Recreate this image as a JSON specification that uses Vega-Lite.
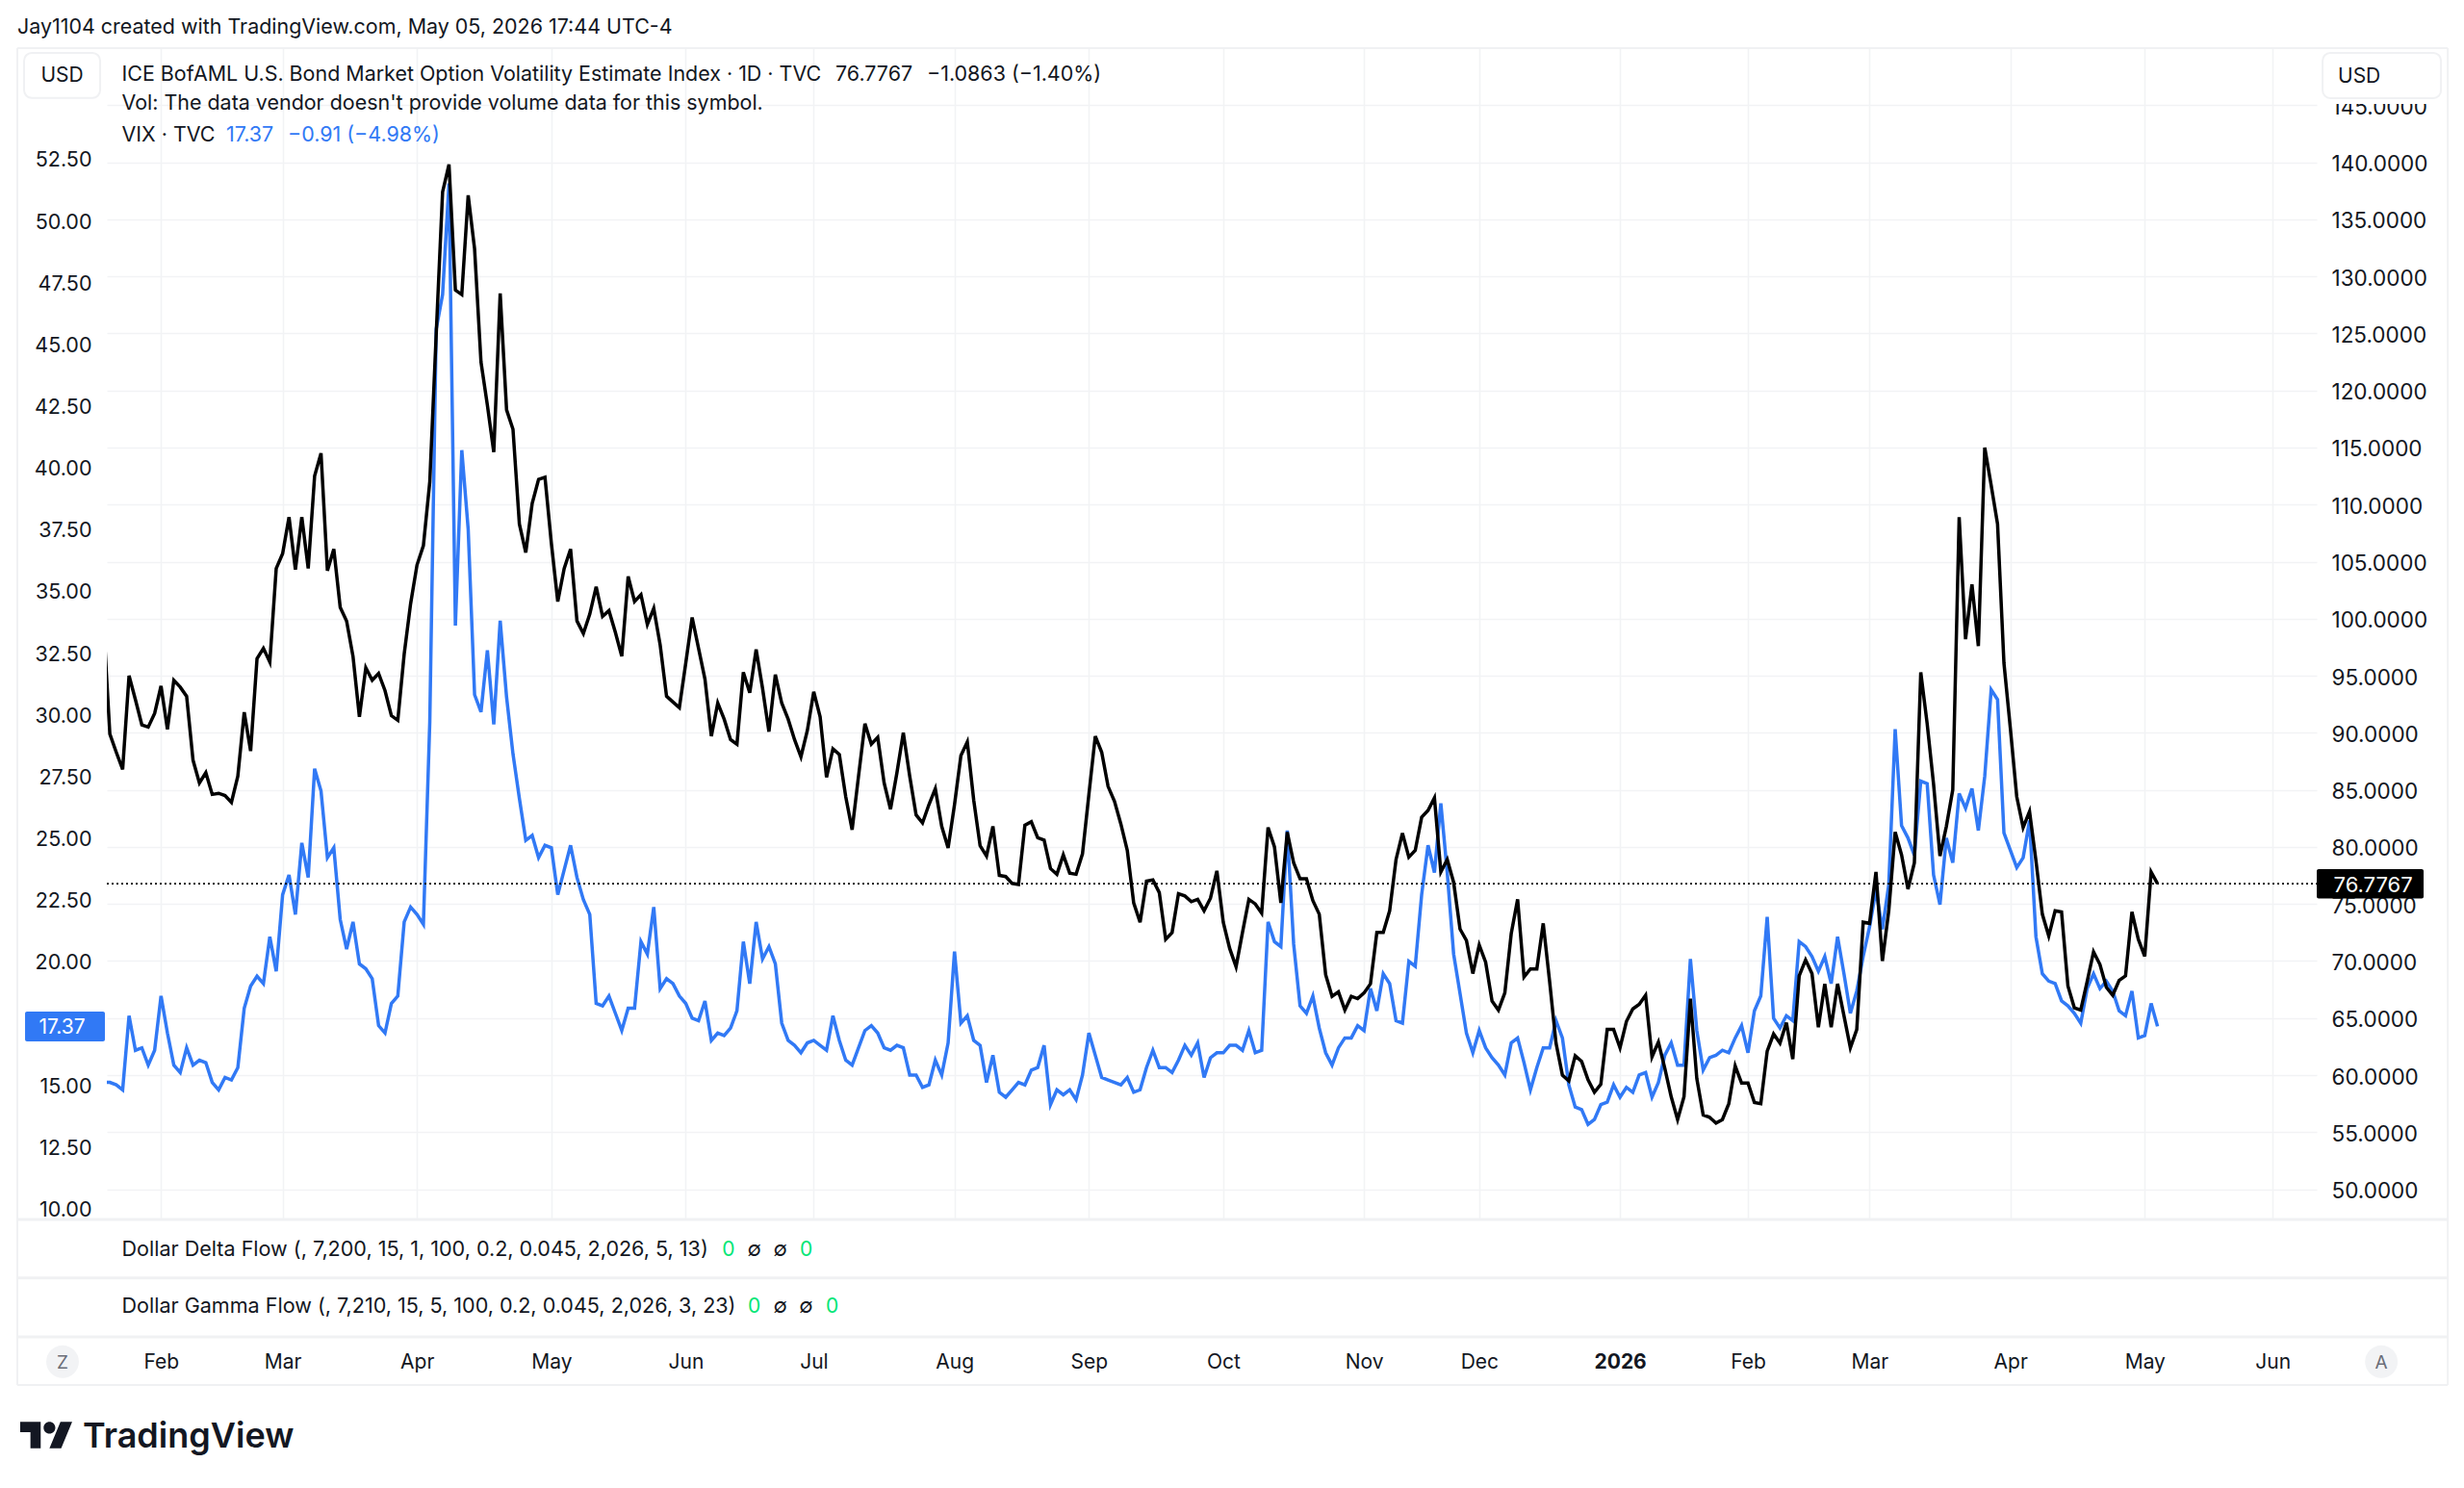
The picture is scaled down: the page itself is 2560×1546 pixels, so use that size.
{"$schema":"https://vega.github.io/schema/vega-lite/v6.json","width":2296,"height":1217,"autosize":"none","padding":{"left":111,"top":50,"right":153,"bottom":279},"background":"white","config":{"view":{"stroke":null},"font":"Inter","text":{"font":"Inter","dy":1.5}},
"data":{"values":[
{"bar":0,"move":99.8,"vix":15.1},{"bar":1,"move":89.9,"vix":15.1},{"bar":2,"move":88.3,"vix":15.0},{"bar":3,"move":86.8,"vix":14.8},{"bar":4,"move":95.0,"vix":17.8},{"bar":5,"move":92.9,"vix":16.4},{"bar":6,"move":90.7,"vix":16.5},{"bar":7,"move":90.5,"vix":15.8},{"bar":8,"move":91.7,"vix":16.4},{"bar":9,"move":94.1,"vix":18.6},
{"bar":10,"move":90.3,"vix":17.1},{"bar":11,"move":94.6,"vix":15.8},{"bar":12,"move":94.0,"vix":15.5},{"bar":13,"move":93.2,"vix":16.5},{"bar":14,"move":87.6,"vix":15.8},{"bar":15,"move":85.6,"vix":16.0},{"bar":16,"move":86.5,"vix":15.9},{"bar":17,"move":84.6,"vix":15.1},{"bar":18,"move":84.7,"vix":14.8},{"bar":19,"move":84.5,"vix":15.3},
{"bar":20,"move":83.9,"vix":15.2},{"bar":21,"move":86.2,"vix":15.7},{"bar":22,"move":91.8,"vix":18.1},{"bar":23,"move":88.4,"vix":19.0},{"bar":24,"move":96.5,"vix":19.4},{"bar":25,"move":97.4,"vix":19.1},{"bar":26,"move":96.2,"vix":21.0},{"bar":27,"move":104.4,"vix":19.6},{"bar":28,"move":105.7,"vix":22.7},{"bar":29,"move":108.9,"vix":23.5},
{"bar":30,"move":104.3,"vix":21.9},{"bar":31,"move":108.9,"vix":24.8},{"bar":32,"move":104.4,"vix":23.4},{"bar":33,"move":112.5,"vix":27.8},{"bar":34,"move":114.5,"vix":26.9},{"bar":35,"move":104.2,"vix":24.2},{"bar":36,"move":106.1,"vix":24.6},{"bar":37,"move":101.0,"vix":21.7},{"bar":38,"move":99.8,"vix":20.5},{"bar":39,"move":96.7,"vix":21.6},
{"bar":40,"move":91.4,"vix":19.9},{"bar":41,"move":95.7,"vix":19.7},{"bar":42,"move":94.6,"vix":19.3},{"bar":43,"move":95.2,"vix":17.4},{"bar":44,"move":93.7,"vix":17.1},{"bar":45,"move":91.5,"vix":18.3},{"bar":46,"move":91.1,"vix":18.6},{"bar":47,"move":96.9,"vix":21.6},{"bar":48,"move":101.3,"vix":22.2},{"bar":49,"move":104.7,"vix":21.9},
{"bar":50,"move":106.4,"vix":21.5},{"bar":51,"move":112.0,"vix":29.7},{"bar":52,"move":124.9,"vix":45.6},{"bar":53,"move":137.4,"vix":47.0},{"bar":54,"move":139.8,"vix":51.5},{"bar":55,"move":128.8,"vix":33.6},{"bar":56,"move":128.4,"vix":40.7},{"bar":57,"move":137.1,"vix":37.5},{"bar":58,"move":132.4,"vix":30.8},{"bar":59,"move":122.5,"vix":30.1},
{"bar":60,"move":118.7,"vix":32.6},{"bar":61,"move":114.6,"vix":29.6},{"bar":62,"move":128.5,"vix":33.8},{"bar":63,"move":118.3,"vix":30.7},{"bar":64,"move":116.6,"vix":28.4},{"bar":65,"move":108.3,"vix":26.6},{"bar":66,"move":105.8,"vix":24.9},{"bar":67,"move":110.1,"vix":25.1},{"bar":68,"move":112.2,"vix":24.2},{"bar":69,"move":112.4,"vix":24.7},
{"bar":70,"move":106.6,"vix":24.6},{"bar":71,"move":101.5,"vix":22.7},{"bar":72,"move":104.4,"vix":23.7},{"bar":73,"move":106.1,"vix":24.7},{"bar":74,"move":99.8,"vix":23.4},{"bar":75,"move":98.7,"vix":22.5},{"bar":76,"move":100.4,"vix":21.9},{"bar":77,"move":102.8,"vix":18.3},{"bar":78,"move":100.2,"vix":18.2},{"bar":79,"move":100.7,"vix":18.6},
{"bar":80,"move":98.8,"vix":17.9},{"bar":81,"move":96.7,"vix":17.2},{"bar":82,"move":103.7,"vix":18.1},{"bar":83,"move":101.5,"vix":18.1},{"bar":84,"move":102.1,"vix":20.8},{"bar":85,"move":99.5,"vix":20.3},{"bar":86,"move":100.9,"vix":22.2},{"bar":87,"move":97.7,"vix":18.9},{"bar":88,"move":93.2,"vix":19.3},{"bar":89,"move":92.7,"vix":19.1},
{"bar":90,"move":92.2,"vix":18.6},{"bar":91,"move":96.1,"vix":18.3},{"bar":92,"move":100.1,"vix":17.7},{"bar":93,"move":97.4,"vix":17.6},{"bar":94,"move":94.7,"vix":18.4},{"bar":95,"move":89.7,"vix":16.8},{"bar":96,"move":92.6,"vix":17.1},{"bar":97,"move":91.2,"vix":17.0},{"bar":98,"move":89.4,"vix":17.3},{"bar":99,"move":89.0,"vix":18.0},
{"bar":100,"move":95.3,"vix":20.8},{"bar":101,"move":93.5,"vix":19.1},{"bar":102,"move":97.3,"vix":21.6},{"bar":103,"move":93.9,"vix":20.1},{"bar":104,"move":90.1,"vix":20.6},{"bar":105,"move":95.1,"vix":19.9},{"bar":106,"move":92.6,"vix":17.5},{"bar":107,"move":91.2,"vix":16.8},{"bar":108,"move":89.4,"vix":16.6},{"bar":109,"move":87.9,"vix":16.3},
{"bar":110,"move":90.2,"vix":16.7},{"bar":111,"move":93.6,"vix":16.8},{"bar":112,"move":91.4,"vix":16.6},{"bar":113,"move":86.1,"vix":16.4},{"bar":114,"move":88.6,"vix":17.8},{"bar":115,"move":88.1,"vix":16.8},{"bar":116,"move":84.4,"vix":16.0},{"bar":117,"move":81.5,"vix":15.8},{"bar":118,"move":86.2,"vix":16.5},{"bar":119,"move":90.8,"vix":17.2},
{"bar":120,"move":89.0,"vix":17.4},{"bar":121,"move":89.6,"vix":17.1},{"bar":122,"move":85.6,"vix":16.5},{"bar":123,"move":83.3,"vix":16.4},{"bar":124,"move":86.5,"vix":16.6},{"bar":125,"move":90.0,"vix":16.5},{"bar":126,"move":86.2,"vix":15.4},{"bar":127,"move":82.8,"vix":15.4},{"bar":128,"move":82.1,"vix":14.9},{"bar":129,"move":83.7,"vix":15.0},
{"bar":130,"move":85.1,"vix":16.0},{"bar":131,"move":81.8,"vix":15.4},{"bar":132,"move":79.9,"vix":16.7},{"bar":133,"move":83.7,"vix":20.4},{"bar":134,"move":88.0,"vix":17.5},{"bar":135,"move":89.2,"vix":17.8},{"bar":136,"move":84.1,"vix":16.8},{"bar":137,"move":80.1,"vix":16.6},{"bar":138,"move":79.2,"vix":15.1},{"bar":139,"move":81.8,"vix":16.2},
{"bar":140,"move":77.5,"vix":14.7},{"bar":141,"move":77.4,"vix":14.5},{"bar":142,"move":76.8,"vix":14.8},{"bar":143,"move":76.7,"vix":15.1},{"bar":144,"move":81.9,"vix":15.0},{"bar":145,"move":82.2,"vix":15.6},{"bar":146,"move":80.8,"vix":15.7},{"bar":147,"move":80.6,"vix":16.6},{"bar":148,"move":78.1,"vix":14.2},{"bar":149,"move":77.6,"vix":14.8},
{"bar":150,"move":79.3,"vix":14.6},{"bar":151,"move":77.7,"vix":14.8},{"bar":152,"move":77.6,"vix":14.4},{"bar":153,"move":79.4,"vix":15.4},{"bar":154,"move":84.6,"vix":17.1},{"bar":155,"move":89.7,"vix":16.2},{"bar":156,"move":88.3,"vix":15.3},{"bar":157,"move":85.3,"vix":15.2},{"bar":158,"move":84.0,"vix":15.1},{"bar":159,"move":82.0,"vix":15.0},
{"bar":160,"move":79.7,"vix":15.3},{"bar":161,"move":75.1,"vix":14.7},{"bar":162,"move":73.4,"vix":14.8},{"bar":163,"move":77.0,"vix":15.7},{"bar":164,"move":77.1,"vix":16.4},{"bar":165,"move":76.0,"vix":15.7},{"bar":166,"move":71.9,"vix":15.7},{"bar":167,"move":72.5,"vix":15.5},{"bar":168,"move":75.9,"vix":16.0},{"bar":169,"move":75.7,"vix":16.6},
{"bar":170,"move":75.2,"vix":16.2},{"bar":171,"move":75.4,"vix":16.7},{"bar":172,"move":74.4,"vix":15.3},{"bar":173,"move":75.5,"vix":16.1},{"bar":174,"move":77.9,"vix":16.3},{"bar":175,"move":73.4,"vix":16.3},{"bar":176,"move":71.1,"vix":16.6},{"bar":177,"move":69.5,"vix":16.6},{"bar":178,"move":72.5,"vix":16.4},{"bar":179,"move":75.4,"vix":17.2},
{"bar":180,"move":75.0,"vix":16.3},{"bar":181,"move":74.2,"vix":16.4},{"bar":182,"move":81.7,"vix":21.6},{"bar":183,"move":80.0,"vix":20.8},{"bar":184,"move":75.1,"vix":20.6},{"bar":185,"move":81.3,"vix":25.3},{"bar":186,"move":78.6,"vix":20.7},{"bar":187,"move":77.2,"vix":18.2},{"bar":188,"move":77.2,"vix":17.9},{"bar":189,"move":75.3,"vix":18.6},
{"bar":190,"move":74.1,"vix":17.3},{"bar":191,"move":68.8,"vix":16.3},{"bar":192,"move":66.9,"vix":15.8},{"bar":193,"move":67.3,"vix":16.5},{"bar":194,"move":65.7,"vix":16.9},{"bar":195,"move":66.9,"vix":16.9},{"bar":196,"move":66.7,"vix":17.4},{"bar":197,"move":67.2,"vix":17.2},{"bar":198,"move":68.0,"vix":18.9},{"bar":199,"move":72.5,"vix":18.0},
{"bar":200,"move":72.5,"vix":19.5},{"bar":201,"move":74.4,"vix":19.1},{"bar":202,"move":78.9,"vix":17.6},{"bar":203,"move":81.2,"vix":17.5},{"bar":204,"move":79.1,"vix":20.0},{"bar":205,"move":79.7,"vix":19.8},{"bar":206,"move":82.6,"vix":22.7},{"bar":207,"move":83.2,"vix":24.7},{"bar":208,"move":84.3,"vix":23.6},{"bar":209,"move":77.8,"vix":26.4},
{"bar":210,"move":78.9,"vix":23.6},{"bar":211,"move":76.9,"vix":20.3},{"bar":212,"move":72.8,"vix":18.7},{"bar":213,"move":71.8,"vix":17.1},{"bar":214,"move":68.9,"vix":16.3},{"bar":215,"move":71.4,"vix":17.2},{"bar":216,"move":69.9,"vix":16.5},{"bar":217,"move":66.5,"vix":16.1},{"bar":218,"move":65.7,"vix":15.8},{"bar":219,"move":67.2,"vix":15.4},
{"bar":220,"move":72.4,"vix":16.7},{"bar":221,"move":75.4,"vix":16.9},{"bar":222,"move":68.6,"vix":15.9},{"bar":223,"move":69.3,"vix":14.8},{"bar":224,"move":69.3,"vix":15.7},{"bar":225,"move":73.3,"vix":16.5},{"bar":226,"move":68.2,"vix":16.5},{"bar":227,"move":62.8,"vix":17.6},{"bar":228,"move":60.0,"vix":16.9},{"bar":229,"move":59.5,"vix":15.0},
{"bar":230,"move":61.7,"vix":14.1},{"bar":231,"move":61.2,"vix":14.0},{"bar":232,"move":59.6,"vix":13.4},{"bar":233,"move":58.5,"vix":13.6},{"bar":234,"move":59.2,"vix":14.2},{"bar":235,"move":64.0,"vix":14.3},{"bar":236,"move":64.0,"vix":15.0},{"bar":237,"move":62.4,"vix":14.5},{"bar":238,"move":64.7,"vix":14.9},{"bar":239,"move":65.8,"vix":14.7},
{"bar":240,"move":66.2,"vix":15.4},{"bar":241,"move":67.0,"vix":15.5},{"bar":242,"move":61.6,"vix":14.5},{"bar":243,"move":62.9,"vix":15.1},{"bar":244,"move":60.6,"vix":16.2},{"bar":245,"move":58.1,"vix":16.7},{"bar":246,"move":56.1,"vix":15.8},{"bar":247,"move":58.1,"vix":15.8},{"bar":248,"move":66.7,"vix":20.1},{"bar":249,"move":59.7,"vix":17.2},
{"bar":250,"move":56.5,"vix":15.6},{"bar":251,"move":56.3,"vix":16.1},{"bar":252,"move":55.8,"vix":16.2},{"bar":253,"move":56.1,"vix":16.4},{"bar":254,"move":57.5,"vix":16.3},{"bar":255,"move":60.8,"vix":16.9},{"bar":256,"move":59.3,"vix":17.4},{"bar":257,"move":59.3,"vix":16.3},{"bar":258,"move":57.6,"vix":18.0},{"bar":259,"move":57.5,"vix":18.6},
{"bar":260,"move":62.1,"vix":21.8},{"bar":261,"move":63.6,"vix":17.7},{"bar":262,"move":62.8,"vix":17.3},{"bar":263,"move":64.6,"vix":17.8},{"bar":264,"move":61.4,"vix":17.6},{"bar":265,"move":68.7,"vix":20.8},{"bar":266,"move":70.1,"vix":20.6},{"bar":267,"move":68.9,"vix":20.2},{"bar":268,"move":64.2,"vix":19.6},{"bar":269,"move":68.0,"vix":20.2},
{"bar":270,"move":64.2,"vix":19.1},{"bar":271,"move":68.0,"vix":21.0},{"bar":272,"move":65.2,"vix":19.5},{"bar":273,"move":62.4,"vix":17.9},{"bar":274,"move":64.0,"vix":18.8},{"bar":275,"move":73.4,"vix":20.2},{"bar":276,"move":73.3,"vix":21.4},{"bar":277,"move":77.8,"vix":22.9},{"bar":278,"move":70.0,"vix":21.3},{"bar":279,"move":74.4,"vix":23.1},
{"bar":280,"move":81.3,"vix":29.4},{"bar":281,"move":79.3,"vix":25.5},{"bar":282,"move":76.3,"vix":25.0},{"bar":283,"move":78.6,"vix":24.3},{"bar":284,"move":95.3,"vix":27.3},{"bar":285,"move":90.8,"vix":27.2},{"bar":286,"move":85.5,"vix":23.5},{"bar":287,"move":79.2,"vix":22.3},{"bar":288,"move":81.8,"vix":25.0},{"bar":289,"move":85.0,"vix":24.0},
{"bar":290,"move":108.9,"vix":26.8},{"bar":291,"move":98.2,"vix":26.2},{"bar":292,"move":103.0,"vix":27.0},{"bar":293,"move":97.6,"vix":25.3},{"bar":294,"move":115.0,"vix":27.5},{"bar":295,"move":111.7,"vix":31.0},{"bar":296,"move":108.3,"vix":30.6},{"bar":297,"move":96.1,"vix":25.2},{"bar":298,"move":90.4,"vix":24.5},{"bar":299,"move":84.4,"vix":23.8},
{"bar":300,"move":81.7,"vix":24.2},{"bar":301,"move":83.1,"vix":25.7},{"bar":302,"move":78.8,"vix":21.0},{"bar":303,"move":74.1,"vix":19.5},{"bar":304,"move":72.2,"vix":19.2},{"bar":305,"move":74.4,"vix":19.1},{"bar":306,"move":74.3,"vix":18.4},{"bar":307,"move":67.8,"vix":18.2},{"bar":308,"move":65.9,"vix":17.9},{"bar":309,"move":65.7,"vix":17.5},
{"bar":310,"move":68.2,"vix":18.9},{"bar":311,"move":70.8,"vix":19.5},{"bar":312,"move":69.7,"vix":18.9},{"bar":313,"move":67.7,"vix":19.2},{"bar":314,"move":67.0,"vix":18.8},{"bar":315,"move":68.3,"vix":18.0},{"bar":316,"move":68.7,"vix":17.8},{"bar":317,"move":74.3,"vix":18.8},{"bar":318,"move":71.9,"vix":16.9},{"bar":319,"move":70.4,"vix":17.0},
{"bar":320,"move":77.8,"vix":18.3},{"bar":321,"move":76.78,"vix":17.37}
]},
"resolve":{"scale":{"y":"independent"},"axis":{"x":"independent","y":"independent"}},
"layer":[
{"mark":{"type":"line","clip":true,"color":"#3179F5","strokeWidth":3.5},"encoding":{"x":{"field":"bar","type":"quantitative","scale":{"domain":[0.53,345.88],"nice":false,"zero":false},"axis":{"values":[9,28,49,70,91,111,133,154,175,197,215,237,257,276,298,319,339],"labelExpr":"['Feb','Mar','Apr','May','Jun','Jul','Aug','Sep','Oct','Nov','Dec','2026','Feb','Mar','Apr','May','Jun'][indexof([9,28,49,70,91,111,133,154,175,197,215,237,257,276,298,319,339],datum.value)]","title":null,"grid":true,"gridColor":"#f2f3f5","gridWidth":1.6,"domain":false,"ticks":false,"labelPadding":137,"labelFont":"Inter","labelFontSize":21,"labelColor":"#131722","labelFontWeight":{"condition":{"test":"datum.value==237","value":700},"value":400},"labelOverlap":false,"labelFlush":false,"zindex":0}},"y":{"field":"vix","type":"quantitative","scale":{"domain":[9.55,56.98],"nice":false,"zero":false},"axis":{"orient":"left","values":[10,12.5,15,20,22.5,25,27.5,30,32.5,35,37.5,40,42.5,45,47.5,50,52.5],"format":".2f","title":null,"grid":false,"domain":false,"ticks":false,"labelPadding":16,"labelOffset":2,"labelFont":"Inter","labelFontSize":21.5,"labelColor":"#131722","labelOverlap":false,"zindex":0}}}},
{"mark":{"type":"line","clip":true,"color":"#000000","strokeWidth":3.5},"encoding":{"x":{"field":"bar","type":"quantitative","axis":null},"y":{"field":"move","type":"quantitative","scale":{"domain":[47.35,150],"nice":false,"zero":false},"axis":{"orient":"right","values":[50,55,60,65,70,75,80,85,90,95,100,105,110,115,120,125,130,135,140,145],"format":".4f","title":null,"grid":true,"gridColor":"#f2f3f5","gridWidth":1.6,"domain":false,"ticks":false,"labelPadding":15,"labelOffset":2,"labelFont":"Inter","labelFontSize":22.5,"labelColor":"#131722","labelOverlap":false,"zindex":0}}}},
{"layer":[
{"data":{"values":[{"label":"Jay1104 created with TradingView.com, May 05, 2026 17:44 UTC-4"}]},"mark":{"type":"text","align":"left","baseline":"middle","fontSize":21.45,"color":"#131722"},"encoding":{"x":{"datum":-13.46,"type":"quantitative","axis":null},"y":{"datum":57.84,"type":"quantitative","axis":null,"scale":{"domain":[9.55,56.98],"nice":false,"zero":false}},"text":{"field":"label"}}},
{"data":{"values":[{"label":"ICE BofAML U.S. Bond Market Option Volatility Estimate Index · 1D · TVC"}]},"mark":{"type":"text","align":"left","baseline":"middle","fontSize":21.45,"color":"#131722"},"encoding":{"x":{"datum":2.86,"type":"quantitative","axis":null},"y":{"datum":55.93,"type":"quantitative","axis":null},"text":{"field":"label"}}},
{"data":{"values":[{"label":"76.7767"}]},"mark":{"type":"text","align":"left","baseline":"middle","fontSize":21.45,"color":"#131722"},"encoding":{"x":{"datum":114.4,"type":"quantitative","axis":null},"y":{"datum":55.93,"type":"quantitative","axis":null},"text":{"field":"label"}}},
{"data":{"values":[{"label":"−1.0863 (−1.40%)"}]},"mark":{"type":"text","align":"left","baseline":"middle","fontSize":21.45,"color":"#131722"},"encoding":{"x":{"datum":128.69,"type":"quantitative","axis":null},"y":{"datum":55.93,"type":"quantitative","axis":null},"text":{"field":"label"}}},
{"data":{"values":[{"label":"Vol: The data vendor doesn't provide volume data for this symbol."}]},"mark":{"type":"text","align":"left","baseline":"middle","fontSize":21.45,"color":"#131722"},"encoding":{"x":{"datum":2.86,"type":"quantitative","axis":null},"y":{"datum":54.76,"type":"quantitative","axis":null},"text":{"field":"label"}}},
{"data":{"values":[{"label":"VIX · TVC"}]},"mark":{"type":"text","align":"left","baseline":"middle","fontSize":21.45,"color":"#131722"},"encoding":{"x":{"datum":2.86,"type":"quantitative","axis":null},"y":{"datum":53.51,"type":"quantitative","axis":null},"text":{"field":"label"}}},
{"data":{"values":[{"label":"17.37"}]},"mark":{"type":"text","align":"left","baseline":"middle","fontSize":21.45,"color":"#3179F5"},"encoding":{"x":{"datum":19.18,"type":"quantitative","axis":null},"y":{"datum":53.51,"type":"quantitative","axis":null},"text":{"field":"label"}}},
{"data":{"values":[{"label":"−0.91 (−4.98%)"}]},"mark":{"type":"text","align":"left","baseline":"middle","fontSize":21.45,"color":"#3179F5"},"encoding":{"x":{"datum":28.81,"type":"quantitative","axis":null},"y":{"datum":53.51,"type":"quantitative","axis":null},"text":{"field":"label"}}},
{"data":{"values":[{}]},"mark":{"type":"rule","color":"#f0f1f3","strokeWidth":2},"encoding":{"x":{"datum":-13.46,"type":"quantitative","axis":null},"x2":{"datum":366.36},"y":{"datum":56.98,"type":"quantitative","axis":null}}},
{"data":{"values":[{}]},"mark":{"type":"rule","color":"#f0f1f3","strokeWidth":3},"encoding":{"x":{"datum":-13.46,"type":"quantitative","axis":null},"x2":{"datum":366.36},"y":{"datum":9.55,"type":"quantitative","axis":null}}},
{"data":{"values":[{}]},"mark":{"type":"rule","color":"#f0f1f3","strokeWidth":3},"encoding":{"x":{"datum":-13.46,"type":"quantitative","axis":null},"x2":{"datum":366.36},"y":{"datum":7.18,"type":"quantitative","axis":null}}},
{"data":{"values":[{}]},"mark":{"type":"rule","color":"#f0f1f3","strokeWidth":3},"encoding":{"x":{"datum":-13.46,"type":"quantitative","axis":null},"x2":{"datum":366.36},"y":{"datum":4.8,"type":"quantitative","axis":null}}},
{"data":{"values":[{}]},"mark":{"type":"rule","color":"#f0f1f3","strokeWidth":2},"encoding":{"x":{"datum":-13.46,"type":"quantitative","axis":null},"x2":{"datum":366.36},"y":{"datum":2.85,"type":"quantitative","axis":null}}},
{"data":{"values":[{}]},"mark":{"type":"rule","color":"#f0f1f3","strokeWidth":2},"encoding":{"x":{"datum":-13.46,"type":"quantitative","axis":null},"y":{"datum":56.98,"type":"quantitative","axis":null},"y2":{"datum":2.85}}},
{"data":{"values":[{}]},"mark":{"type":"rule","color":"#f0f1f3","strokeWidth":2},"encoding":{"x":{"datum":366.36,"type":"quantitative","axis":null},"y":{"datum":56.98,"type":"quantitative","axis":null},"y2":{"datum":2.85}}},
{"data":{"values":[{}]},"mark":{"type":"rect","fill":"white","stroke":"#f0f1f3","strokeWidth":2,"cornerRadius":8},"encoding":{"x":{"datum":-12.4,"type":"quantitative","axis":null},"x2":{"datum":-0.52},"y":{"datum":56.79,"type":"quantitative","axis":null},"y2":{"datum":54.96}}},
{"data":{"values":[{"label":"USD"}]},"mark":{"type":"text","align":"center","baseline":"middle","fontSize":21,"color":"#131722"},"encoding":{"x":{"datum":-6.46,"type":"quantitative","axis":null},"y":{"datum":55.89,"type":"quantitative","axis":null},"text":{"field":"label"}}},
{"data":{"values":[{}]},"mark":{"type":"rect","fill":"#3179F5","cornerRadius":2},"encoding":{"x":{"datum":-12.25,"type":"quantitative","axis":null},"x2":{"datum":0.23},"y":{"datum":17.97,"type":"quantitative","axis":null},"y2":{"datum":16.76}}},
{"data":{"values":[{"label":"17.37"}]},"mark":{"type":"text","align":"center","baseline":"middle","fontSize":21,"color":"white"},"encoding":{"x":{"datum":-6.46,"type":"quantitative","axis":null},"y":{"datum":17.37,"type":"quantitative","axis":null},"text":{"field":"label"}}},
{"data":{"values":[{"label":"Dollar Delta Flow (, 7,200, 15, 1, 100, 0.2, 0.045, 2,026, 5, 13)"}]},"mark":{"type":"text","align":"left","baseline":"middle","fontSize":21.55,"color":"#131722"},"encoding":{"x":{"datum":2.86,"type":"quantitative","axis":null},"y":{"datum":8.38,"type":"quantitative","axis":null},"text":{"field":"label"}}},
{"data":{"values":[{"label":"0"}]},"mark":{"type":"text","align":"center","baseline":"middle","fontSize":21,"color":"#00E676"},"encoding":{"x":{"datum":97.66,"type":"quantitative","axis":null},"y":{"datum":8.38,"type":"quantitative","axis":null},"text":{"field":"label"}}},
{"data":{"values":[{"label":"∅"}]},"mark":{"type":"text","align":"center","baseline":"middle","fontSize":21,"color":"#131722"},"encoding":{"x":{"datum":101.72,"type":"quantitative","axis":null},"y":{"datum":8.38,"type":"quantitative","axis":null},"text":{"field":"label"}}},
{"data":{"values":[{"label":"∅"}]},"mark":{"type":"text","align":"center","baseline":"middle","fontSize":21,"color":"#131722"},"encoding":{"x":{"datum":105.77,"type":"quantitative","axis":null},"y":{"datum":8.38,"type":"quantitative","axis":null},"text":{"field":"label"}}},
{"data":{"values":[{"label":"0"}]},"mark":{"type":"text","align":"center","baseline":"middle","fontSize":21,"color":"#00E676"},"encoding":{"x":{"datum":109.81,"type":"quantitative","axis":null},"y":{"datum":8.38,"type":"quantitative","axis":null},"text":{"field":"label"}}},
{"data":{"values":[{"label":"Dollar Gamma Flow (, 7,210, 15, 5, 100, 0.2, 0.045, 2,026, 3, 23)"}]},"mark":{"type":"text","align":"left","baseline":"middle","fontSize":21.55,"color":"#131722"},"encoding":{"x":{"datum":2.86,"type":"quantitative","axis":null},"y":{"datum":6.05,"type":"quantitative","axis":null},"text":{"field":"label"}}},
{"data":{"values":[{"label":"0"}]},"mark":{"type":"text","align":"center","baseline":"middle","fontSize":21,"color":"#00E676"},"encoding":{"x":{"datum":101.72,"type":"quantitative","axis":null},"y":{"datum":6.05,"type":"quantitative","axis":null},"text":{"field":"label"}}},
{"data":{"values":[{"label":"∅"}]},"mark":{"type":"text","align":"center","baseline":"middle","fontSize":21,"color":"#131722"},"encoding":{"x":{"datum":105.77,"type":"quantitative","axis":null},"y":{"datum":6.05,"type":"quantitative","axis":null},"text":{"field":"label"}}},
{"data":{"values":[{"label":"∅"}]},"mark":{"type":"text","align":"center","baseline":"middle","fontSize":21,"color":"#131722"},"encoding":{"x":{"datum":109.81,"type":"quantitative","axis":null},"y":{"datum":6.05,"type":"quantitative","axis":null},"text":{"field":"label"}}},
{"data":{"values":[{"label":"0"}]},"mark":{"type":"text","align":"center","baseline":"middle","fontSize":21,"color":"#00E676"},"encoding":{"x":{"datum":113.87,"type":"quantitative","axis":null},"y":{"datum":6.05,"type":"quantitative","axis":null},"text":{"field":"label"}}},
{"data":{"values":[{}]},"mark":{"type":"point","shape":"circle","filled":true,"opacity":1,"size":1150,"color":"#f2f3f5"},"encoding":{"x":{"datum":-6.39,"type":"quantitative","axis":null},"y":{"datum":3.79,"type":"quantitative","axis":null}}},
{"data":{"values":[{"label":"Z"}]},"mark":{"type":"text","align":"center","baseline":"middle","fontSize":19,"color":"#6a6d78"},"encoding":{"x":{"datum":-6.39,"type":"quantitative","axis":null},"y":{"datum":3.79,"type":"quantitative","axis":null},"text":{"field":"label"}}},
{"data":{"values":[{}]},"mark":{"type":"point","shape":"circle","filled":true,"opacity":1,"size":1150,"color":"#f2f3f5"},"encoding":{"x":{"datum":355.98,"type":"quantitative","axis":null},"y":{"datum":3.79,"type":"quantitative","axis":null}}},
{"data":{"values":[{"label":"A"}]},"mark":{"type":"text","align":"center","baseline":"middle","fontSize":19,"color":"#6a6d78"},"encoding":{"x":{"datum":355.98,"type":"quantitative","axis":null},"y":{"datum":3.79,"type":"quantitative","axis":null},"text":{"field":"label"}}},
{"data":{"values":[{}]},"mark":{"type":"point","filled":true,"opacity":1,"size":3000,"color":"#131722","shape":"M-0.208 0.5H-0.597V-0.111H-0.986V-0.5H-0.208ZM0.569 0.5H0.125L0.542 -0.5H0.986ZM-0.097 -0.278A0.222 0.222 0 1 0 0.347 -0.278A0.222 0.222 0 1 0 -0.097 -0.278Z"},"encoding":{"x":{"datum":-8.95,"type":"quantitative","axis":null},"y":{"datum":0.82,"type":"quantitative","axis":null}}},
{"data":{"values":[{"label":"TradingView"}]},"mark":{"type":"text","align":"left","baseline":"middle","fontSize":36,"fontWeight":600,"color":"#131722"},"encoding":{"x":{"datum":-3.23,"type":"quantitative","axis":null},"y":{"datum":0.82,"type":"quantitative","axis":null},"text":{"field":"label"}}}
]},
{"layer":[
{"data":{"values":[{}]},"mark":{"type":"rule","color":"#000000","strokeWidth":1.6,"strokeDash":[2,3]},"encoding":{"x":{"datum":0.53,"type":"quantitative","axis":null},"x2":{"datum":345.88},"y":{"datum":76.7767,"type":"quantitative","axis":null,"scale":{"domain":[47.35,150],"nice":false,"zero":false}}}},
{"data":{"values":[{}]},"mark":{"type":"rect","fill":"#000000","cornerRadius":2},"encoding":{"x":{"datum":345.88,"type":"quantitative","axis":null},"x2":{"datum":362.58},"y":{"datum":78.05,"type":"quantitative","axis":null},"y2":{"datum":75.47}}},
{"data":{"values":[{"label":"76.7767"}]},"mark":{"type":"text","align":"center","baseline":"middle","fontSize":22,"color":"white"},"encoding":{"x":{"datum":354.7,"type":"quantitative","axis":null},"y":{"datum":76.7767,"type":"quantitative","axis":null},"text":{"field":"label"}}},
{"data":{"values":[{}]},"mark":{"type":"rect","fill":"white"},"encoding":{"x":{"datum":346.2,"type":"quantitative","axis":null},"x2":{"datum":365.9},"y":{"datum":149.84,"type":"quantitative","axis":null},"y2":{"datum":145.11}}},
{"data":{"values":[{}]},"mark":{"type":"rect","fill":"white","stroke":"#f0f1f3","strokeWidth":2,"cornerRadius":8},"encoding":{"x":{"datum":346.8,"type":"quantitative","axis":null},"x2":{"datum":365.3},"y":{"datum":149.58,"type":"quantitative","axis":null},"y2":{"datum":145.62}}},
{"data":{"values":[{"label":"USD"}]},"mark":{"type":"text","align":"center","baseline":"middle","fontSize":21,"color":"#131722"},"encoding":{"x":{"datum":352.52,"type":"quantitative","axis":null},"y":{"datum":147.6,"type":"quantitative","axis":null},"text":{"field":"label"}}}
]}
]}
